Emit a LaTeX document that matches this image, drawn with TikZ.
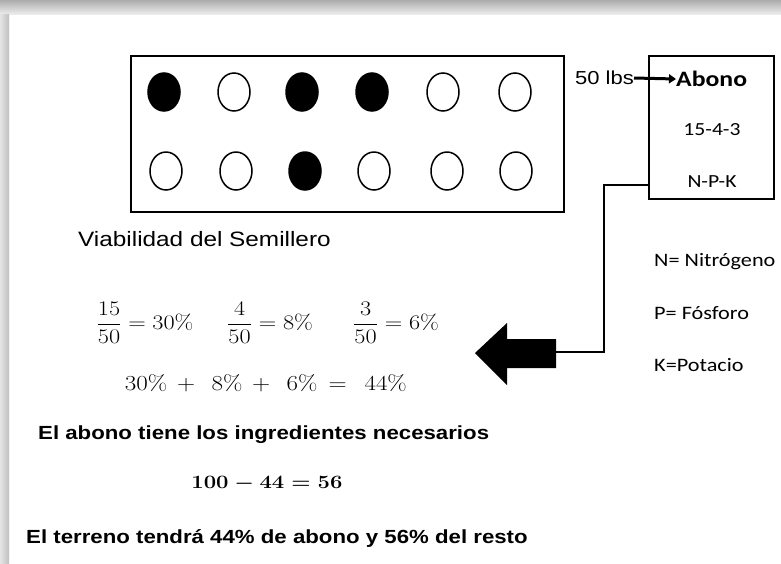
\documentclass[tikz,border=0pt]{standalone}
\usepackage{amsmath}
\usepackage[no-math]{fontspec}
\setmainfont{Liberation Sans}
\newfontfamily\calib{Carlito}
\usetikzlibrary{arrows.meta,calc,shapes.geometric}
\newcommand{\wide}[1]{\scalebox{1.17}[1]{#1}}
\tikzset{
  seed/.style={draw=black,line width=1.5pt,minimum width=32pt,minimum height=38pt,ellipse,inner sep=0pt},
  seedfull/.style={seed,fill=black},
  frame/.style={draw=black,line width=2pt,inner sep=0pt},
  legend/.style={font=\calib\fontsize{19}{22}\selectfont,anchor=west,inner sep=0pt},
  mtext/.style={font=\fontsize{20}{24}\selectfont,inner sep=0pt},
  btext/.style={font=\bfseries\fontsize{19}{22}\selectfont,anchor=west,inner sep=0pt}
}
\begin{document}
\begin{tikzpicture}[x=1pt,y=-1pt]
\useasboundingbox (0,0) rectangle (781,563);
\fill[white] (0,0) rectangle (781,563);
\shade[top color=gray!65,bottom color=gray!15] (0,0) rectangle (781,14);
\shade[left color=gray!20,right color=gray!50] (0,14) rectangle (9,563);
% seed box
\node[frame,minimum width=433pt,minimum height=156pt] (seedbox) at (347.5,134) {};
\foreach \x/\f [count=\i] in {164/1,234/0,302/1,372/1,443/0,515/0}{
  \ifnum\f=1 \node[seedfull] (a\i) at (\x,92) {};\else \node[seed] (a\i) at (\x,92) {};\fi
}
\foreach \x/\f [count=\i] in {166/0,236/0,305/1,374/0,447/0,516/0}{
  \ifnum\f=1 \node[seedfull] (b\i) at (\x,171) {};\else \node[seed] (b\i) at (\x,171) {};\fi
}
\node[font=\fontsize{20.8}{25}\selectfont,anchor=west,inner sep=0pt] (viab) at (78,239) {\wide{Viabilidad del Semillero}};
% abono box
\node[frame,minimum width=125pt,minimum height=143pt] (abono) at (711.5,127.5) {};
\node[font=\fontsize{18.8}{22}\selectfont,anchor=east,inner sep=0pt] (lbs) at (634,78) {\wide{50 lbs}};
\node[font=\calib\bfseries\fontsize{22}{26}\selectfont,anchor=west,inner sep=0pt] (abt) at (676,79) {\wide{Abono}};
\draw[line width=3pt,-{Triangle[length=7pt,width=9pt]}] (lbs.east) -- (abt.west);
\node[font=\calib\fontsize{18.5}{22}\selectfont,inner sep=0pt] (npk1) at (712,130) {\wide{15-4-3}};
\node[font=\calib\fontsize{18.5}{22}\selectfont,inner sep=0pt] (npk2) at (712,182) {\wide{N-P-K}};
% legend
\node[legend] (ln) at (654,262) {\wide{N= Nitrógeno}};
\node[legend] (lp) at (654,313) {\wide{P= Fósforo}};
\node[legend] (lk) at (654,365) {\wide{K=Potacio}};
% big arrow
\fill[black] (475,353) -- (507,323) -- (507,339) -- (556,339) -- (556,368) -- (507,368) -- (507,385) -- cycle;
\coordinate (arrowtail) at (556,352);
\draw[line width=1.8pt] ($(abono.south west)+(0,-15)$) -- ++(-44,0) |- (arrowtail);
% math
\node[mtext] (f1) at (145,323) {\wide{$\dfrac{15}{50}=30\%$}};
\node[mtext] (f2) at (270,323) {\wide{$\dfrac{4}{50}=8\%$}};
\node[mtext] (f3) at (396,323) {\wide{$\dfrac{3}{50}=6\%$}};
\node[mtext] (sum) at (266,383) {\scalebox{1.209}[1.033]{$30\% \,+\,\ 8\% \,+\,\ 6\% \,=\,\ 44\%$}};
\node[btext] (t1) at (38,435) {\wide{El abono tiene los ingredientes necesarios}};
\node[mtext] (eq) at (267,484) {\scalebox{1.063}[0.909]{\boldmath$100-44=56$}};
\node[btext] (t2) at (26,538) {\wide{El terreno tendrá 44\% de abono y 56\% del resto}};
\end{tikzpicture}
\end{document}
